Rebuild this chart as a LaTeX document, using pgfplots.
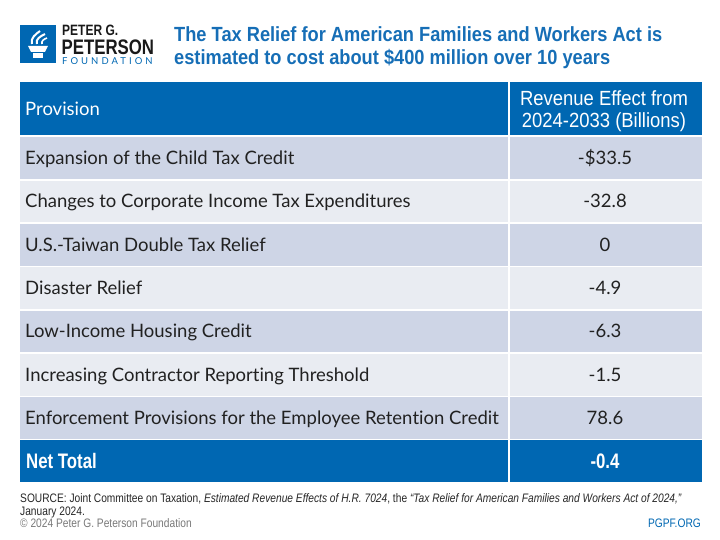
\documentclass[border=0pt]{standalone}
\usepackage{pgfplots}
\pgfplotsset{compat=1.18}
\usepackage{fontspec}
\setmainfont[Ligatures=NoCommon,RawFeature={-liga,-dlig,-calt}]{Lato}
\newfontfamily\condb[FakeStretch=0.80]{Liberation Sans Bold}
\newfontfamily\titlef[FakeStretch=0.89]{Liberation Sans Bold}
\newfontfamily\cond[FakeStretch=0.80]{Liberation Sans}
\newfontfamily\hcond[FakeStretch=0.90]{Liberation Sans}
\newfontfamily\fcond[FakeStretch=0.83]{Liberation Sans}
\newfontfamily\fcondi[FakeStretch=0.83]{Liberation Sans Italic}
\newfontfamily\spaced[LetterSpace=32]{Lato}
\definecolor{pgblue}{RGB}{0,103,178}
\definecolor{titleblue}{RGB}{22,110,182}
\definecolor{rowA}{RGB}{206,213,230}
\definecolor{rowB}{RGB}{233,236,242}
\definecolor{cgray}{RGB}{120,120,120}
\tikzset{body/.style={text=black!87,font=\fontsize{18.5}{18.5}\selectfont,inner sep=0pt}}
\begin{document}
\begin{tikzpicture}
\begin{axis}[width=720pt,height=540pt,scale only axis,xmin=0,xmax=720,ymin=0,ymax=540,
  y dir=reverse,hide axis,clip=false]
\path (axis cs:0,0) rectangle (axis cs:720,540);
% header
\fill[pgblue] (axis cs:20,82) rectangle (axis cs:702,135.2);
% rows
\fill[rowA] (axis cs:20,136.8) rectangle (axis cs:702,179.0);
\fill[rowB] (axis cs:20,180.6) rectangle (axis cs:702,222.3);
\fill[rowA] (axis cs:20,223.9) rectangle (axis cs:702,265.6);
\fill[rowB] (axis cs:20,267.2) rectangle (axis cs:702,308.9);
\fill[rowA] (axis cs:20,310.5) rectangle (axis cs:702,352.2);
\fill[rowB] (axis cs:20,353.8) rectangle (axis cs:702,395.5);
\fill[rowA] (axis cs:20,397.1) rectangle (axis cs:702,438.8);
\fill[pgblue] (axis cs:20,440.4) rectangle (axis cs:702,482);
\draw[white,line width=1.6pt] (axis cs:509,82) -- (axis cs:509,482);
% header text
\node[anchor=base west,text=white,font=\fontsize{18.5}{18.5}\selectfont,inner sep=0pt] at (axis cs:25,115.5) {Provision};
\node[anchor=base,text=white,font=\hcond\fontsize{20.5}{20.5}\selectfont,inner sep=0pt] at (axis cs:604,105.5) {Revenue Effect from};
\node[anchor=base,text=white,font=\hcond\fontsize{20.5}{20.5}\selectfont,inner sep=0pt] at (axis cs:604,127.5) {2024-2033 (Billions)};
% body text
\node[body,anchor=base west] at (axis cs:25,164.5) {Expansion of the Child Tax Credit};
\node[body,anchor=base west] at (axis cs:25,207.9) {Changes to Corporate Income Tax Expenditures};
\node[body,anchor=base west] at (axis cs:25,251.2) {U.S.-Taiwan Double Tax Relief};
\node[body,anchor=base west] at (axis cs:25,294.5) {Disaster Relief};
\node[body,anchor=base west] at (axis cs:25,337.9) {Low-Income Housing Credit};
\node[body,anchor=base west] at (axis cs:25,381.2) {Increasing Contractor Repor\kern0pt ting Threshold};
\node[body,anchor=base west] at (axis cs:25,424.5) {Enforcement Provisions for the Employee Reten\kern0pt tion Credit};
\node[body,anchor=base] at (axis cs:605,164.5) {-\$33.5};
\node[body,anchor=base] at (axis cs:605,207.9) {-32.8};
\node[body,anchor=base] at (axis cs:605,251.2) {0};
\node[body,anchor=base] at (axis cs:605,294.5) {-4.9};
\node[body,anchor=base] at (axis cs:605,337.9) {-6.3};
\node[body,anchor=base] at (axis cs:605,381.2) {-1.5};
\node[body,anchor=base] at (axis cs:605,424.5) {78.6};
\node[anchor=base west,text=white,font=\condb\fontsize{21}{21}\selectfont,inner sep=0pt] at (axis cs:26,468.5) {Net Total};
\node[anchor=base,text=white,font=\condb\fontsize{21}{21}\selectfont,inner sep=0pt] at (axis cs:605,468.5) {-0.4};
% title
\node[anchor=base west,text=titleblue,font=\titlef\fontsize{20.5}{20.5}\selectfont,inner sep=0pt] at (axis cs:174,41.5) {The Tax Relief for American Families and Workers Act is};
\node[anchor=base west,text=titleblue,font=\titlef\fontsize{20.5}{20.5}\selectfont,inner sep=0pt] at (axis cs:174,65) {estimated to cost about \$400 million over 10 years};
% logo
\fill[pgblue] (axis cs:20,25) rectangle (axis cs:56,63);
\fill[white] (axis cs:28,46) -- (axis cs:48,46) -- (axis cs:45,52) -- (axis cs:31,52) -- cycle;
\fill[white] (axis cs:33,53) rectangle (axis cs:43,58);
\draw[white,line width=2pt] (axis cs:32,44) .. controls (axis cs:30,38) and (axis cs:36,34) .. (axis cs:40,31);
\draw[white,line width=2pt] (axis cs:37,44) .. controls (axis cs:35,39) and (axis cs:41,36) .. (axis cs:45,34);
\draw[white,line width=1.6pt] (axis cs:42,44) .. controls (axis cs:41,41) and (axis cs:44,39) .. (axis cs:47,38);
\node[anchor=base west,text=black!90,font=\condb\fontsize{15}{15}\selectfont,inner sep=0pt,text depth=0pt] at (axis cs:62,36) {PETER G.};
\node[anchor=base west,text=black!90,font=\condb\fontsize{21}{21}\selectfont,inner sep=0pt,text depth=0pt,text height=15pt] at (axis cs:61.5,54.5) {PETERSON};
\node[anchor=base west,text=pgblue,font=\spaced\fontsize{9.5}{9.5}\selectfont,inner sep=0pt,text height=6.8pt] at (axis cs:62,64.8) {FOUNDATION};
% footer
\node[anchor=base west,text=black!85,font=\fcond\fontsize{12.3}{12.3}\selectfont,inner sep=0pt] at (axis cs:20,502) {SOURCE: Joint Committee on Taxation, {\fcondi Estimated Revenue Effects of H.R. 7024}, the {\fcondi “Tax Relief for American Families and Workers Act of 2024,”}};
\node[anchor=base west,text=black!85,font=\fcond\fontsize{12.3}{12.3}\selectfont,inner sep=0pt] at (axis cs:20,515) {January 2024.};
\node[anchor=base west,text=cgray,font=\fcond\fontsize{12.3}{12.3}\selectfont,inner sep=0pt] at (axis cs:20,527.5) {\textcopyright\ 2024 Peter G. Peterson Foundation};
\node[anchor=base east,text=pgblue,font=\fcond\fontsize{12.3}{12.3}\selectfont,inner sep=0pt] at (axis cs:701,527.5) {PGPF.ORG};
\end{axis}
\end{tikzpicture}
\end{document}
